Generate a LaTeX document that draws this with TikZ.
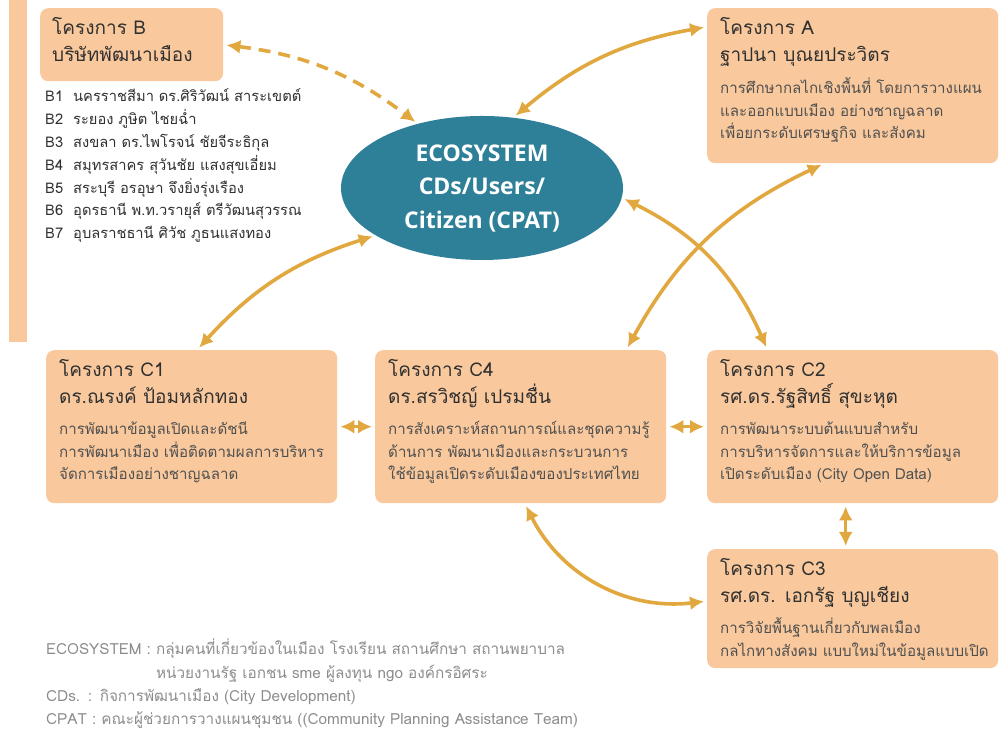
\documentclass[tikz,border=0pt]{standalone}
\usepackage{fontspec}
\setmainfont[Script=Thai]{Loma}
\newfontfamily\ecofont{Open Sans}
\usepackage{xcolor}
\usetikzlibrary{shapes.geometric, arrows.meta}
\definecolor{custom_peach}{HTML}{F9C99D}
\definecolor{custom_teal}{HTML}{2E7F98}
\definecolor{custom_gold}{HTML}{E2A840}
\definecolor{custom_dark}{HTML}{303030}
\definecolor{custom_gray}{HTML}{505050}
\definecolor{custom_light}{HTML}{8C8C8C}

\tikzset{
  box/.style={fill=custom_peach, rounded corners=8pt, inner sep=0pt, anchor=north west},
  title/.style={anchor=base west, inner sep=0pt, text width=400pt, align=left,
    text=custom_dark, font=\fontsize{19}{26.5}\selectfont},
  body/.style={anchor=base west, inner sep=0pt, text width=400pt, align=left,
    text=custom_gray, font=\fontsize{15.1}{22.5}\selectfont},
  link/.style={<->, custom_gold, line width=3.6pt, shorten <=3pt, shorten >=3pt},
  >={Latex[length=14pt,width=14pt]},
}

\begin{document}
\begin{tikzpicture}[x=1pt, y=1pt]
  \useasboundingbox (0,0) rectangle (999,735);

  \fill[custom_peach] (9,393) rectangle (27,735);

  \node[box, minimum width=183pt, minimum height=73pt] (B) at (40,727) {};
  \node[title] at ([shift={(12,-27)}]B.north west) {โครงการ B\\ บริษัทพัฒนาเมือง};
  \node[body, text=custom_dark, font=\fontsize{14.7}{22.8}\selectfont] (Blist) at (45,633) {%
    \makebox[28pt][l]{B1}นครราชสีมา ดร.ศิริวัฒน์ สาระเขตต์\\
    \makebox[28pt][l]{B2}ระยอง ภูษิต ไชยฉ่ำ\\
    \makebox[28pt][l]{B3}สงขลา ดร.ไพโรจน์ ชัยจีระธิกุล\\
    \makebox[28pt][l]{B4}สมุทรสาคร สุวันชัย แสงสุขเอี่ยม\\
    \makebox[28pt][l]{B5}สระบุรี อรอุษา จึงยิ่งรุ่งเรือง\\
    \makebox[28pt][l]{B6}อุดรธานี พ.ท.วรายุส์ ตรีวัฒนสุวรรณ\\
    \makebox[28pt][l]{B7}อุบลราชธานี ศิวัช ภูธนแสงทอง};

  \node[box, minimum width=291pt, minimum height=155pt] (A) at (707,727) {};
  \node[title] at ([shift={(13,-27)}]A.north west) {โครงการ A\\ ฐาปนา บุณยประวิตร};
  \node[body] at ([shift={(13,-86)}]A.north west) {การศึกษากลไกเชิงพื้นที่ โดยการวางแผน\\
    และออกแบบเมือง อย่างชาญฉลาด\\ เพื่อยกระดับเศรษฐกิจ และสังคม};

  \node[ellipse, fill=custom_teal, minimum width=282pt, minimum height=144pt, inner sep=0pt,
    text=white, align=center, font=\ecofont\bfseries\fontsize{23}{33.5}\selectfont] (E) at (482,547)
    {ECOSYSTEM\\ CDs/Users/\\ Citizen (CPAT)};

  \node[box, minimum width=291pt, minimum height=153pt] (C1) at (46,385) {};
  \node[title] at ([shift={(13,-27)}]C1.north west) {โครงการ C1\\ ดร.ณรงค์ ป้อมหลักทอง};
  \node[body] at ([shift={(13,-85)}]C1.north west) {การพัฒนาข้อมูลเปิดและดัชนี\\
    การพัฒนาเมือง เพื่อติดตามผลการบริหาร\\ จัดการเมืองอย่างชาญฉลาด};

  \node[box, minimum width=291pt, minimum height=153pt] (C4) at (375,385) {};
  \node[title] at ([shift={(13,-27)}]C4.north west) {โครงการ C4\\ ดร.สรวิชญ์ เปรมชื่น};
  \node[body] at ([shift={(13,-85)}]C4.north west) {การสังเคราะห์สถานการณ์และชุดความรู้\\
    ด้านการ พัฒนาเมืองและกระบวนการ\\ ใช้ข้อมูลเปิดระดับเมืองของประเทศไทย};

  \node[box, minimum width=291pt, minimum height=153pt] (C2) at (707,385) {};
  \node[title] at ([shift={(13,-27)}]C2.north west) {โครงการ C2\\ รศ.ดร.รัฐสิทธิ์ สุขะหุต};
  \node[body] at ([shift={(13,-85)}]C2.north west) {การพัฒนาระบบต้นแบบสำหรับ\\
    การบริหารจัดการและให้บริการข้อมูล\\ เปิดระดับเมือง (City Open Data)};

  \node[box, minimum width=291pt, minimum height=119pt] (C3) at (707,186) {};
  \node[title] at ([shift={(13,-27)}]C3.north west) {โครงการ C3\\ รศ.ดร. เอกรัฐ บุญเชียง};
  \node[body] at ([shift={(13,-85)}]C3.north west) {การวิจัยพื้นฐานเกี่ยวกับพลเมือง\\
    กลไกทางสังคม แบบใหม่ในข้อมูลแบบเปิด};

  % footnote
  \node[body, text width=700pt, text=custom_light, font=\fontsize{15.3}{23.3}\selectfont] (note) at (46,80) {%
    ECOSYSTEM : กลุ่มคนที่เกี่ยวข้องในเมือง โรงเรียน สถานศึกษา สถานพยาบาล\\
    \phantom{ECOSYSTEM : }หน่วยงานรัฐ เอกชน sme ผู้ลงทุน ngo องค์กรอิศระ\\
    CDs. : กิจการพัฒนาเมือง (City Development)\\
    CPAT : คณะผู้ช่วยการวางแผนชุมชน ((Community Planning Assistance Team)};

  % connectors
  \draw[link, dash pattern=on 12pt off 8pt] (B.east) to[bend left=15] (E.135);
  \draw[link] (E.66) to[bend left=15] (A.158);
  \draw[link] (C1.86) to[bend left=15] (E.204);
  \draw[link] (C4.36) to[bend left=18] (A.250);
  \draw[link] (E.356) to[bend left=20] (C2.138);
  \draw[link] (C4.273) to[bend right=35] (C3.177);
  \draw[link, line width=3pt] (C1.east) -- (C4.west);
  \draw[link, line width=3pt] (C4.east) -- (C2.west);
  \draw[link, line width=3pt] ([xshift=-7pt]C2.south) -- ([xshift=-7pt]C3.north);
\end{tikzpicture}
\end{document}
